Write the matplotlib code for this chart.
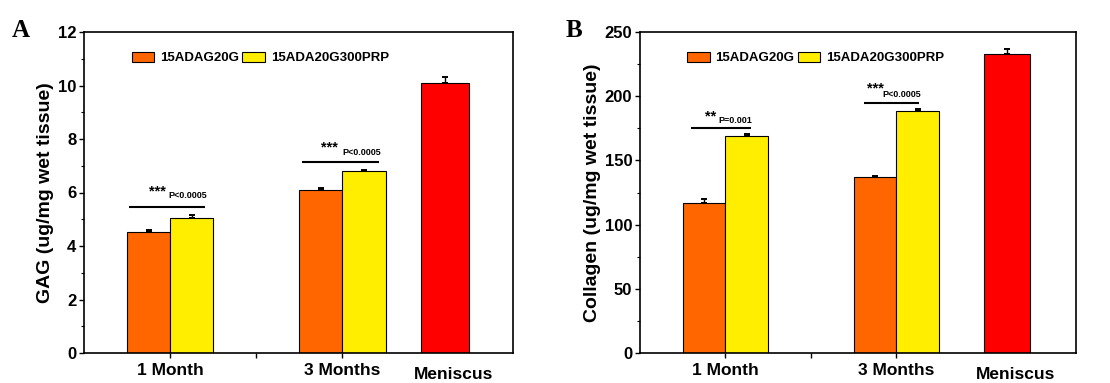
import matplotlib
matplotlib.use("Agg")
import matplotlib.pyplot as plt
from matplotlib.patches import Patch
from matplotlib.ticker import MultipleLocator
import matplotlib.transforms as mtrans

plt.rcParams['font.family'] = ['Liberation Sans', 'DejaVu Sans']
plt.rcParams['font.weight'] = 'bold'

# ---- data ----
series_names = ['15ADAG20G', '15ADA20G300PRP']
groups = ['1 Month', '3 Months']
reference_name = 'Meniscus'

gag_adag = [4.51, 6.08]
gag_adag_err = [0.10, 0.10]
gag_prp = [5.06, 6.79]
gag_prp_err = [0.10, 0.06]
gag_men = 10.08
gag_men_err = 0.22

col_adag = [117.1, 136.8]
col_adag_err = [3.0, 1.3]
col_prp = [168.8, 188.5]
col_prp_err = [1.5, 1.3]
col_men = 232.9
col_men_err = 3.6

gag_sig = [('***', 'P<0.0005'), ('***', 'P<0.0005')]
col_sig = [('**', 'P=0.001'), ('***', 'P<0.0005')]

C_ORANGE = '#FF6600'
C_YELLOW = '#FFEE00'
C_RED = '#FF0000'

fig = plt.figure(figsize=(11.1, 3.83), dpi=100)


def panel(rect, letter, letter_x, a, a_err, b, b_err, men, men_err,
          ylim, ymaj, ymin, ylabel, xlim, men_pos, men_w, sig, sig_geom,
          leg_x):
    ax = fig.add_axes(rect)
    centers = [1, 3]
    w = 0.5
    ax.bar([c - w for c in centers], a, width=w, align='edge',
           color=C_ORANGE, edgecolor='black', linewidth=0.8, zorder=2)
    ax.bar(centers, b, width=w, align='edge',
           color=C_YELLOW, edgecolor='black', linewidth=0.8, zorder=2)
    ax.bar([men_pos], [men], width=men_w, align='center',
           color=C_RED, edgecolor='black', linewidth=0.8, zorder=2)
    ekw = dict(fmt='none', ecolor='black', elinewidth=1.0, capsize=2.3,
               capthick=1.4, zorder=3)
    ax.errorbar([c - w / 2 for c in centers], a,
                yerr=[[0] * len(a), a_err], **ekw)
    ax.errorbar([c + w / 2 for c in centers], b,
                yerr=[[0] * len(b), b_err], **ekw)
    ax.errorbar([men_pos], [men], yerr=[[0], [men_err]], **ekw)

    # significance brackets
    for (stars, ptxt), (x0, x1, yl, xs, ys, xp, yp) in zip(sig, sig_geom):
        ax.plot([x0, x1], [yl, yl], color='black', lw=1.5,
                solid_capstyle='butt', zorder=3)
        ax.text(xs, ys, stars, ha='center', va='center', fontsize=10.5,
                fontweight='bold')
        ax.text(xp, yp, ptxt, ha='center', va='center', fontsize=6.5,
                fontweight='bold')

    ax.set_xlim(*xlim)
    ax.set_ylim(*ylim)
    ax.yaxis.set_major_locator(MultipleLocator(ymaj))
    ax.yaxis.set_minor_locator(MultipleLocator(ymin))
    ax.set_xticks([1, 2, 3])
    ax.set_xticklabels([groups[0], '', groups[1]])
    ax.tick_params(axis='both', which='major', direction='out', length=3.5,
                   width=1.0, pad=2)
    ax.tick_params(axis='y', which='major', labelsize=12)
    ax.tick_params(axis='x', which='major', labelsize=12.5, pad=4)
    ax.tick_params(axis='y', which='minor', direction='out', length=2,
                   width=0.8)
    for lab in ax.get_xticklabels() + ax.get_yticklabels():
        lab.set_fontweight('bold')
    for s in ax.spines.values():
        s.set_linewidth(1.2)
    ax.set_ylabel(ylabel, fontsize=14, fontweight='bold', labelpad=3)

    trans = mtrans.blended_transform_factory(ax.transData, ax.transAxes)
    ax.text(men_pos + 0.1, -0.045, reference_name, transform=trans,
            ha='center', va='top', fontsize=12.5, fontweight='bold')

    handles = [Patch(facecolor=C_ORANGE, edgecolor='black', linewidth=0.8),
               Patch(facecolor=C_YELLOW, edgecolor='black', linewidth=0.8)]
    ax.legend(handles, series_names, ncol=2, loc='center left',
              bbox_to_anchor=(leg_x, 0.919), frameon=False,
              prop={'weight': 'bold', 'size': 9.5}, handlelength=1.7,
              handleheight=0.8, handletextpad=0.45, columnspacing=0.25,
              borderpad=0, borderaxespad=0)

    fig.text(letter_x, 0.92, letter, fontsize=18, fontweight='bold',
             family=['Liberation Serif', 'DejaVu Serif'], ha='left',
             va='center')
    return ax


panel([84 / 1110, 30 / 383, 429 / 1110, 321 / 383], 'A', 12 / 1110,
      gag_adag, gag_adag_err, gag_prp, gag_prp_err, gag_men, gag_men_err,
      (0, 12), 2, 1, 'GAG (ug/mg wet tissue)', (0, 4.98), 4.19, 0.55,
      gag_sig,
      [(0.52, 1.40, 5.47, 0.85, 6.03, 1.20, 5.87),
       (2.53, 3.42, 7.13, 2.85, 7.70, 3.22, 7.48)],
      0.111)

panel([640 / 1110, 30 / 383, 436 / 1110, 321 / 383], 'B', 566 / 1110,
      col_adag, col_adag_err, col_prp, col_prp_err, col_men, col_men_err,
      (0, 250), 50, 25, 'Collagen (ug/mg wet tissue)', (0, 5.1), 4.29, 0.54,
      col_sig,
      [(0.60, 1.30, 175.2, 0.83, 184.6, 1.11, 180.7),
       (2.62, 3.26, 195.0, 2.75, 206.0, 3.06, 201.7)],
      0.108)

fig.savefig('out.png', dpi=100)
